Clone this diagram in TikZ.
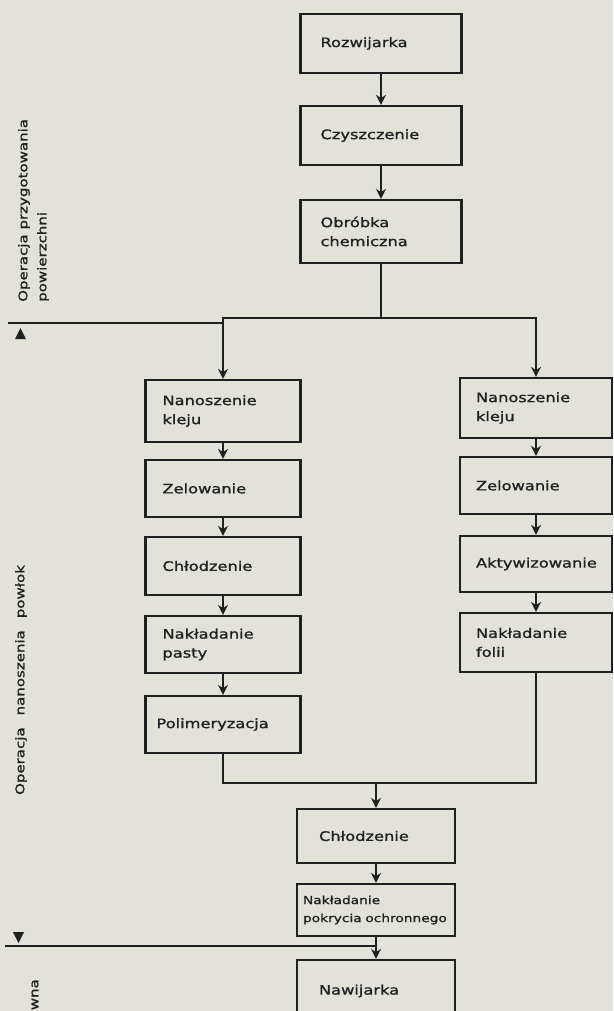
\documentclass[tikz,border=0pt]{standalone}
\usepackage{fontspec}
\usepackage{xcolor}
\usepackage{tikz}
\usetikzlibrary{positioning,arrows.meta}
\newfontfamily\hand{DejaVu Sans}[FakeStretch=1.25, FakeBold=1.2]
\definecolor{papier}{RGB}{226,225,218}
\definecolor{tusz}{RGB}{32,32,32}
\tikzset{
  blok/.style={draw=tusz, line width=2.2pt, text=tusz, align=left, inner ysep=0pt,
    font=\hand\fontsize{13}{19}\selectfont},
  gora/.style={blok, inner xsep=20pt, text width=121pt},
  lewa/.style={blok, inner xsep=17pt, text width=121pt},
  prawa/.style={blok, inner xsep=16pt, text width=120pt},
  dolna/.style={blok, inner xsep=22pt, text width=114pt},
  strz/.style={draw=tusz, line width=2.2pt, -{Stealth[length=10pt,width=10pt]}},
  linia/.style={draw=tusz, line width=2.2pt},
  opis/.style={text=tusz, rotate=90, align=left, inner sep=0pt,
    font=\hand\fontsize{12}{19}\selectfont}
}

\begin{document}
\begin{tikzpicture}[x=1pt, y=-1pt]
\fill[papier] (0,0) rectangle (613,1011);
\useasboundingbox (0,0) rectangle (613,1011);

\node[gora, minimum height=59pt] (rozwijarka) at (381,43.5) {Rozwijarka};
\node[gora, minimum height=59pt] (czyszczenie) at (381,135.5) {Czyszczenie};
\node[gora, minimum height=63pt] (obrobka) at (381,231.5) {Obróbka\\chemiczna};

\node[lewa, minimum height=62pt] (klejL) at (223,411) {Nanoszenie\\kleju};
\node[lewa, minimum height=57pt] (zelL) at (223,488.5) {Zelowanie};
\node[lewa, minimum height=58pt] (chlodzL) at (223,566) {Chłodzenie};
\node[lewa, minimum height=57pt] (pasta) at (223,644.5) {Nakładanie\\pasty};
\node[lewa, minimum height=57pt, inner xsep=11pt, text width=133pt] (polim) at (223,724.5) {Polimeryzacja};

\node[prawa, minimum height=60pt] (klejP) at (536,408) {Nanoszenie\\kleju};
\node[prawa, minimum height=57pt] (zelP) at (536,485.5) {Zelowanie};
\node[prawa, minimum height=56pt] (aktyw) at (536,564) {Aktywizowanie};
\node[prawa, minimum height=59pt] (folia) at (536,642.5) {Nakładanie\\folii};

\node[dolna, minimum height=54pt] (chlodz) at (376,836) {Chłodzenie};
\node[dolna, minimum height=52pt, inner xsep=6pt, text width=146pt,
  font=\hand\fontsize{11}{18}\selectfont] (pokrycie) at (376,910) {Nakładanie\\pokrycia ochronnego};
\node[dolna, minimum height=62pt] (nawijarka) at (376,991) {Nawijarka};

\coordinate (podzial) at (381,318);
\coordinate (zbieg) at (376,783);

\draw[strz] (rozwijarka) -- (czyszczenie);
\draw[strz] (czyszczenie) -- (obrobka);
\draw[linia] (obrobka) -- (podzial);
\draw[strz] (podzial) -| (klejL);
\draw[strz] (podzial) -| (klejP);

\draw[strz] (klejL) -- (zelL);
\draw[strz] (zelL) -- (chlodzL);
\draw[strz] (chlodzL) -- (pasta);
\draw[strz] (pasta) -- (polim);

\draw[strz] (klejP) -- (zelP);
\draw[strz] (zelP) -- (aktyw);
\draw[strz] (aktyw) -- (folia);

\draw[linia] (polim) |- (zbieg);
\draw[linia] (folia) |- (zbieg);
\draw[strz] (zbieg) -- (chlodz);
\draw[strz] (chlodz) -- (pokrycie);
\draw[strz] (pokrycie) -- (nawijarka);

\coordinate (granicaA) at (8,323);
\coordinate (granicaB) at (5,946);
\draw[linia] (granicaA) -- (224,323);
\draw[linia] (granicaB) -- (376,946);
\fill[tusz] (15,339) -- (26,339) -- (20.5,328) -- cycle;
\fill[tusz] (13,932) -- (24,932) -- (18.5,943) -- cycle;

\node[opis, anchor=north west] (etapA) at (18,302) {Operacja przygotowania\\powierzchni};
\node[opis] (etapB) at (21,680) {Operacja\quad nanoszenia\quad powłok};
\node[opis, anchor=east] (etapC) at (35,979) {wna};
\end{tikzpicture}
\end{document}
